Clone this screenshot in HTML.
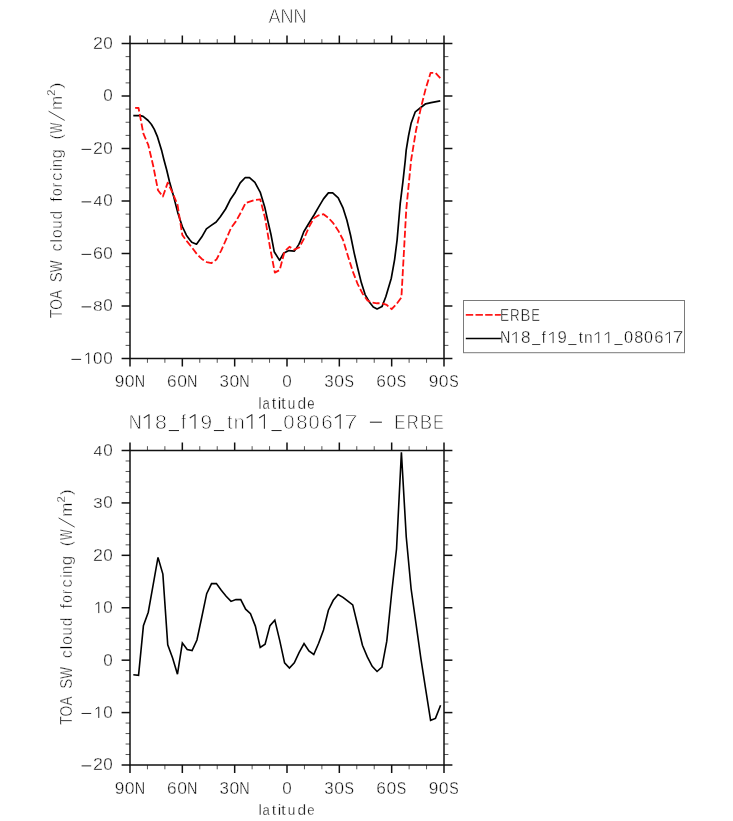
<!DOCTYPE html>
<html><head><meta charset="utf-8"><title>ANN</title>
<style>html,body{margin:0;padding:0;background:#fff;} svg{display:block;will-change:transform;}</style>
</head><body>
<svg width="733" height="821" viewBox="0 0 733 821">
<rect width="733" height="821" fill="#fff"/>
<line x1="130.00" y1="358.50" x2="130.00" y2="366.50" stroke="#111" stroke-width="1.5"/>
<line x1="130.00" y1="43.50" x2="130.00" y2="35.50" stroke="#111" stroke-width="1.5"/>
<line x1="147.44" y1="358.50" x2="147.44" y2="362.80" stroke="#555" stroke-width="1.0"/>
<line x1="147.44" y1="43.50" x2="147.44" y2="39.20" stroke="#555" stroke-width="1.0"/>
<line x1="164.89" y1="358.50" x2="164.89" y2="362.80" stroke="#555" stroke-width="1.0"/>
<line x1="164.89" y1="43.50" x2="164.89" y2="39.20" stroke="#555" stroke-width="1.0"/>
<line x1="182.33" y1="358.50" x2="182.33" y2="366.50" stroke="#111" stroke-width="1.5"/>
<line x1="182.33" y1="43.50" x2="182.33" y2="35.50" stroke="#111" stroke-width="1.5"/>
<line x1="199.78" y1="358.50" x2="199.78" y2="362.80" stroke="#555" stroke-width="1.0"/>
<line x1="199.78" y1="43.50" x2="199.78" y2="39.20" stroke="#555" stroke-width="1.0"/>
<line x1="217.22" y1="358.50" x2="217.22" y2="362.80" stroke="#555" stroke-width="1.0"/>
<line x1="217.22" y1="43.50" x2="217.22" y2="39.20" stroke="#555" stroke-width="1.0"/>
<line x1="234.67" y1="358.50" x2="234.67" y2="366.50" stroke="#111" stroke-width="1.5"/>
<line x1="234.67" y1="43.50" x2="234.67" y2="35.50" stroke="#111" stroke-width="1.5"/>
<line x1="252.11" y1="358.50" x2="252.11" y2="362.80" stroke="#555" stroke-width="1.0"/>
<line x1="252.11" y1="43.50" x2="252.11" y2="39.20" stroke="#555" stroke-width="1.0"/>
<line x1="269.56" y1="358.50" x2="269.56" y2="362.80" stroke="#555" stroke-width="1.0"/>
<line x1="269.56" y1="43.50" x2="269.56" y2="39.20" stroke="#555" stroke-width="1.0"/>
<line x1="287.00" y1="358.50" x2="287.00" y2="366.50" stroke="#111" stroke-width="1.5"/>
<line x1="287.00" y1="43.50" x2="287.00" y2="35.50" stroke="#111" stroke-width="1.5"/>
<line x1="304.44" y1="358.50" x2="304.44" y2="362.80" stroke="#555" stroke-width="1.0"/>
<line x1="304.44" y1="43.50" x2="304.44" y2="39.20" stroke="#555" stroke-width="1.0"/>
<line x1="321.89" y1="358.50" x2="321.89" y2="362.80" stroke="#555" stroke-width="1.0"/>
<line x1="321.89" y1="43.50" x2="321.89" y2="39.20" stroke="#555" stroke-width="1.0"/>
<line x1="339.33" y1="358.50" x2="339.33" y2="366.50" stroke="#111" stroke-width="1.5"/>
<line x1="339.33" y1="43.50" x2="339.33" y2="35.50" stroke="#111" stroke-width="1.5"/>
<line x1="356.78" y1="358.50" x2="356.78" y2="362.80" stroke="#555" stroke-width="1.0"/>
<line x1="356.78" y1="43.50" x2="356.78" y2="39.20" stroke="#555" stroke-width="1.0"/>
<line x1="374.22" y1="358.50" x2="374.22" y2="362.80" stroke="#555" stroke-width="1.0"/>
<line x1="374.22" y1="43.50" x2="374.22" y2="39.20" stroke="#555" stroke-width="1.0"/>
<line x1="391.67" y1="358.50" x2="391.67" y2="366.50" stroke="#111" stroke-width="1.5"/>
<line x1="391.67" y1="43.50" x2="391.67" y2="35.50" stroke="#111" stroke-width="1.5"/>
<line x1="409.11" y1="358.50" x2="409.11" y2="362.80" stroke="#555" stroke-width="1.0"/>
<line x1="409.11" y1="43.50" x2="409.11" y2="39.20" stroke="#555" stroke-width="1.0"/>
<line x1="426.56" y1="358.50" x2="426.56" y2="362.80" stroke="#555" stroke-width="1.0"/>
<line x1="426.56" y1="43.50" x2="426.56" y2="39.20" stroke="#555" stroke-width="1.0"/>
<line x1="444.00" y1="358.50" x2="444.00" y2="366.50" stroke="#111" stroke-width="1.5"/>
<line x1="444.00" y1="43.50" x2="444.00" y2="35.50" stroke="#111" stroke-width="1.5"/>
<line x1="130.00" y1="43.50" x2="121.60" y2="43.50" stroke="#111" stroke-width="1.5"/>
<line x1="444.00" y1="43.50" x2="452.40" y2="43.50" stroke="#111" stroke-width="1.5"/>
<line x1="130.00" y1="56.62" x2="125.60" y2="56.62" stroke="#555" stroke-width="1.0"/>
<line x1="444.00" y1="56.62" x2="448.40" y2="56.62" stroke="#555" stroke-width="1.0"/>
<line x1="130.00" y1="69.75" x2="125.60" y2="69.75" stroke="#555" stroke-width="1.0"/>
<line x1="444.00" y1="69.75" x2="448.40" y2="69.75" stroke="#555" stroke-width="1.0"/>
<line x1="130.00" y1="82.88" x2="125.60" y2="82.88" stroke="#555" stroke-width="1.0"/>
<line x1="444.00" y1="82.88" x2="448.40" y2="82.88" stroke="#555" stroke-width="1.0"/>
<line x1="130.00" y1="96.00" x2="121.60" y2="96.00" stroke="#111" stroke-width="1.5"/>
<line x1="444.00" y1="96.00" x2="452.40" y2="96.00" stroke="#111" stroke-width="1.5"/>
<line x1="130.00" y1="109.12" x2="125.60" y2="109.12" stroke="#555" stroke-width="1.0"/>
<line x1="444.00" y1="109.12" x2="448.40" y2="109.12" stroke="#555" stroke-width="1.0"/>
<line x1="130.00" y1="122.25" x2="125.60" y2="122.25" stroke="#555" stroke-width="1.0"/>
<line x1="444.00" y1="122.25" x2="448.40" y2="122.25" stroke="#555" stroke-width="1.0"/>
<line x1="130.00" y1="135.38" x2="125.60" y2="135.38" stroke="#555" stroke-width="1.0"/>
<line x1="444.00" y1="135.38" x2="448.40" y2="135.38" stroke="#555" stroke-width="1.0"/>
<line x1="130.00" y1="148.50" x2="121.60" y2="148.50" stroke="#111" stroke-width="1.5"/>
<line x1="444.00" y1="148.50" x2="452.40" y2="148.50" stroke="#111" stroke-width="1.5"/>
<line x1="130.00" y1="161.62" x2="125.60" y2="161.62" stroke="#555" stroke-width="1.0"/>
<line x1="444.00" y1="161.62" x2="448.40" y2="161.62" stroke="#555" stroke-width="1.0"/>
<line x1="130.00" y1="174.75" x2="125.60" y2="174.75" stroke="#555" stroke-width="1.0"/>
<line x1="444.00" y1="174.75" x2="448.40" y2="174.75" stroke="#555" stroke-width="1.0"/>
<line x1="130.00" y1="187.88" x2="125.60" y2="187.88" stroke="#555" stroke-width="1.0"/>
<line x1="444.00" y1="187.88" x2="448.40" y2="187.88" stroke="#555" stroke-width="1.0"/>
<line x1="130.00" y1="201.00" x2="121.60" y2="201.00" stroke="#111" stroke-width="1.5"/>
<line x1="444.00" y1="201.00" x2="452.40" y2="201.00" stroke="#111" stroke-width="1.5"/>
<line x1="130.00" y1="214.12" x2="125.60" y2="214.12" stroke="#555" stroke-width="1.0"/>
<line x1="444.00" y1="214.12" x2="448.40" y2="214.12" stroke="#555" stroke-width="1.0"/>
<line x1="130.00" y1="227.25" x2="125.60" y2="227.25" stroke="#555" stroke-width="1.0"/>
<line x1="444.00" y1="227.25" x2="448.40" y2="227.25" stroke="#555" stroke-width="1.0"/>
<line x1="130.00" y1="240.38" x2="125.60" y2="240.38" stroke="#555" stroke-width="1.0"/>
<line x1="444.00" y1="240.38" x2="448.40" y2="240.38" stroke="#555" stroke-width="1.0"/>
<line x1="130.00" y1="253.50" x2="121.60" y2="253.50" stroke="#111" stroke-width="1.5"/>
<line x1="444.00" y1="253.50" x2="452.40" y2="253.50" stroke="#111" stroke-width="1.5"/>
<line x1="130.00" y1="266.62" x2="125.60" y2="266.62" stroke="#555" stroke-width="1.0"/>
<line x1="444.00" y1="266.62" x2="448.40" y2="266.62" stroke="#555" stroke-width="1.0"/>
<line x1="130.00" y1="279.75" x2="125.60" y2="279.75" stroke="#555" stroke-width="1.0"/>
<line x1="444.00" y1="279.75" x2="448.40" y2="279.75" stroke="#555" stroke-width="1.0"/>
<line x1="130.00" y1="292.88" x2="125.60" y2="292.88" stroke="#555" stroke-width="1.0"/>
<line x1="444.00" y1="292.88" x2="448.40" y2="292.88" stroke="#555" stroke-width="1.0"/>
<line x1="130.00" y1="306.00" x2="121.60" y2="306.00" stroke="#111" stroke-width="1.5"/>
<line x1="444.00" y1="306.00" x2="452.40" y2="306.00" stroke="#111" stroke-width="1.5"/>
<line x1="130.00" y1="319.12" x2="125.60" y2="319.12" stroke="#555" stroke-width="1.0"/>
<line x1="444.00" y1="319.12" x2="448.40" y2="319.12" stroke="#555" stroke-width="1.0"/>
<line x1="130.00" y1="332.25" x2="125.60" y2="332.25" stroke="#555" stroke-width="1.0"/>
<line x1="444.00" y1="332.25" x2="448.40" y2="332.25" stroke="#555" stroke-width="1.0"/>
<line x1="130.00" y1="345.38" x2="125.60" y2="345.38" stroke="#555" stroke-width="1.0"/>
<line x1="444.00" y1="345.38" x2="448.40" y2="345.38" stroke="#555" stroke-width="1.0"/>
<line x1="130.00" y1="358.50" x2="121.60" y2="358.50" stroke="#111" stroke-width="1.5"/>
<line x1="444.00" y1="358.50" x2="452.40" y2="358.50" stroke="#111" stroke-width="1.5"/>
<rect x="130.0" y="43.5" width="314.00" height="315.00" stroke="#111" stroke-width="1.5" fill="none"/>
<line x1="130.00" y1="765.00" x2="130.00" y2="773.00" stroke="#111" stroke-width="1.5"/>
<line x1="130.00" y1="450.50" x2="130.00" y2="442.50" stroke="#111" stroke-width="1.5"/>
<line x1="147.44" y1="765.00" x2="147.44" y2="769.30" stroke="#555" stroke-width="1.0"/>
<line x1="147.44" y1="450.50" x2="147.44" y2="446.20" stroke="#555" stroke-width="1.0"/>
<line x1="164.89" y1="765.00" x2="164.89" y2="769.30" stroke="#555" stroke-width="1.0"/>
<line x1="164.89" y1="450.50" x2="164.89" y2="446.20" stroke="#555" stroke-width="1.0"/>
<line x1="182.33" y1="765.00" x2="182.33" y2="773.00" stroke="#111" stroke-width="1.5"/>
<line x1="182.33" y1="450.50" x2="182.33" y2="442.50" stroke="#111" stroke-width="1.5"/>
<line x1="199.78" y1="765.00" x2="199.78" y2="769.30" stroke="#555" stroke-width="1.0"/>
<line x1="199.78" y1="450.50" x2="199.78" y2="446.20" stroke="#555" stroke-width="1.0"/>
<line x1="217.22" y1="765.00" x2="217.22" y2="769.30" stroke="#555" stroke-width="1.0"/>
<line x1="217.22" y1="450.50" x2="217.22" y2="446.20" stroke="#555" stroke-width="1.0"/>
<line x1="234.67" y1="765.00" x2="234.67" y2="773.00" stroke="#111" stroke-width="1.5"/>
<line x1="234.67" y1="450.50" x2="234.67" y2="442.50" stroke="#111" stroke-width="1.5"/>
<line x1="252.11" y1="765.00" x2="252.11" y2="769.30" stroke="#555" stroke-width="1.0"/>
<line x1="252.11" y1="450.50" x2="252.11" y2="446.20" stroke="#555" stroke-width="1.0"/>
<line x1="269.56" y1="765.00" x2="269.56" y2="769.30" stroke="#555" stroke-width="1.0"/>
<line x1="269.56" y1="450.50" x2="269.56" y2="446.20" stroke="#555" stroke-width="1.0"/>
<line x1="287.00" y1="765.00" x2="287.00" y2="773.00" stroke="#111" stroke-width="1.5"/>
<line x1="287.00" y1="450.50" x2="287.00" y2="442.50" stroke="#111" stroke-width="1.5"/>
<line x1="304.44" y1="765.00" x2="304.44" y2="769.30" stroke="#555" stroke-width="1.0"/>
<line x1="304.44" y1="450.50" x2="304.44" y2="446.20" stroke="#555" stroke-width="1.0"/>
<line x1="321.89" y1="765.00" x2="321.89" y2="769.30" stroke="#555" stroke-width="1.0"/>
<line x1="321.89" y1="450.50" x2="321.89" y2="446.20" stroke="#555" stroke-width="1.0"/>
<line x1="339.33" y1="765.00" x2="339.33" y2="773.00" stroke="#111" stroke-width="1.5"/>
<line x1="339.33" y1="450.50" x2="339.33" y2="442.50" stroke="#111" stroke-width="1.5"/>
<line x1="356.78" y1="765.00" x2="356.78" y2="769.30" stroke="#555" stroke-width="1.0"/>
<line x1="356.78" y1="450.50" x2="356.78" y2="446.20" stroke="#555" stroke-width="1.0"/>
<line x1="374.22" y1="765.00" x2="374.22" y2="769.30" stroke="#555" stroke-width="1.0"/>
<line x1="374.22" y1="450.50" x2="374.22" y2="446.20" stroke="#555" stroke-width="1.0"/>
<line x1="391.67" y1="765.00" x2="391.67" y2="773.00" stroke="#111" stroke-width="1.5"/>
<line x1="391.67" y1="450.50" x2="391.67" y2="442.50" stroke="#111" stroke-width="1.5"/>
<line x1="409.11" y1="765.00" x2="409.11" y2="769.30" stroke="#555" stroke-width="1.0"/>
<line x1="409.11" y1="450.50" x2="409.11" y2="446.20" stroke="#555" stroke-width="1.0"/>
<line x1="426.56" y1="765.00" x2="426.56" y2="769.30" stroke="#555" stroke-width="1.0"/>
<line x1="426.56" y1="450.50" x2="426.56" y2="446.20" stroke="#555" stroke-width="1.0"/>
<line x1="444.00" y1="765.00" x2="444.00" y2="773.00" stroke="#111" stroke-width="1.5"/>
<line x1="444.00" y1="450.50" x2="444.00" y2="442.50" stroke="#111" stroke-width="1.5"/>
<line x1="130.00" y1="450.50" x2="121.60" y2="450.50" stroke="#111" stroke-width="1.5"/>
<line x1="444.00" y1="450.50" x2="452.40" y2="450.50" stroke="#111" stroke-width="1.5"/>
<line x1="130.00" y1="460.98" x2="125.60" y2="460.98" stroke="#555" stroke-width="1.0"/>
<line x1="444.00" y1="460.98" x2="448.40" y2="460.98" stroke="#555" stroke-width="1.0"/>
<line x1="130.00" y1="471.47" x2="125.60" y2="471.47" stroke="#555" stroke-width="1.0"/>
<line x1="444.00" y1="471.47" x2="448.40" y2="471.47" stroke="#555" stroke-width="1.0"/>
<line x1="130.00" y1="481.95" x2="125.60" y2="481.95" stroke="#555" stroke-width="1.0"/>
<line x1="444.00" y1="481.95" x2="448.40" y2="481.95" stroke="#555" stroke-width="1.0"/>
<line x1="130.00" y1="492.43" x2="125.60" y2="492.43" stroke="#555" stroke-width="1.0"/>
<line x1="444.00" y1="492.43" x2="448.40" y2="492.43" stroke="#555" stroke-width="1.0"/>
<line x1="130.00" y1="502.92" x2="121.60" y2="502.92" stroke="#111" stroke-width="1.5"/>
<line x1="444.00" y1="502.92" x2="452.40" y2="502.92" stroke="#111" stroke-width="1.5"/>
<line x1="130.00" y1="513.40" x2="125.60" y2="513.40" stroke="#555" stroke-width="1.0"/>
<line x1="444.00" y1="513.40" x2="448.40" y2="513.40" stroke="#555" stroke-width="1.0"/>
<line x1="130.00" y1="523.88" x2="125.60" y2="523.88" stroke="#555" stroke-width="1.0"/>
<line x1="444.00" y1="523.88" x2="448.40" y2="523.88" stroke="#555" stroke-width="1.0"/>
<line x1="130.00" y1="534.37" x2="125.60" y2="534.37" stroke="#555" stroke-width="1.0"/>
<line x1="444.00" y1="534.37" x2="448.40" y2="534.37" stroke="#555" stroke-width="1.0"/>
<line x1="130.00" y1="544.85" x2="125.60" y2="544.85" stroke="#555" stroke-width="1.0"/>
<line x1="444.00" y1="544.85" x2="448.40" y2="544.85" stroke="#555" stroke-width="1.0"/>
<line x1="130.00" y1="555.33" x2="121.60" y2="555.33" stroke="#111" stroke-width="1.5"/>
<line x1="444.00" y1="555.33" x2="452.40" y2="555.33" stroke="#111" stroke-width="1.5"/>
<line x1="130.00" y1="565.82" x2="125.60" y2="565.82" stroke="#555" stroke-width="1.0"/>
<line x1="444.00" y1="565.82" x2="448.40" y2="565.82" stroke="#555" stroke-width="1.0"/>
<line x1="130.00" y1="576.30" x2="125.60" y2="576.30" stroke="#555" stroke-width="1.0"/>
<line x1="444.00" y1="576.30" x2="448.40" y2="576.30" stroke="#555" stroke-width="1.0"/>
<line x1="130.00" y1="586.78" x2="125.60" y2="586.78" stroke="#555" stroke-width="1.0"/>
<line x1="444.00" y1="586.78" x2="448.40" y2="586.78" stroke="#555" stroke-width="1.0"/>
<line x1="130.00" y1="597.27" x2="125.60" y2="597.27" stroke="#555" stroke-width="1.0"/>
<line x1="444.00" y1="597.27" x2="448.40" y2="597.27" stroke="#555" stroke-width="1.0"/>
<line x1="130.00" y1="607.75" x2="121.60" y2="607.75" stroke="#111" stroke-width="1.5"/>
<line x1="444.00" y1="607.75" x2="452.40" y2="607.75" stroke="#111" stroke-width="1.5"/>
<line x1="130.00" y1="618.23" x2="125.60" y2="618.23" stroke="#555" stroke-width="1.0"/>
<line x1="444.00" y1="618.23" x2="448.40" y2="618.23" stroke="#555" stroke-width="1.0"/>
<line x1="130.00" y1="628.72" x2="125.60" y2="628.72" stroke="#555" stroke-width="1.0"/>
<line x1="444.00" y1="628.72" x2="448.40" y2="628.72" stroke="#555" stroke-width="1.0"/>
<line x1="130.00" y1="639.20" x2="125.60" y2="639.20" stroke="#555" stroke-width="1.0"/>
<line x1="444.00" y1="639.20" x2="448.40" y2="639.20" stroke="#555" stroke-width="1.0"/>
<line x1="130.00" y1="649.68" x2="125.60" y2="649.68" stroke="#555" stroke-width="1.0"/>
<line x1="444.00" y1="649.68" x2="448.40" y2="649.68" stroke="#555" stroke-width="1.0"/>
<line x1="130.00" y1="660.17" x2="121.60" y2="660.17" stroke="#111" stroke-width="1.5"/>
<line x1="444.00" y1="660.17" x2="452.40" y2="660.17" stroke="#111" stroke-width="1.5"/>
<line x1="130.00" y1="670.65" x2="125.60" y2="670.65" stroke="#555" stroke-width="1.0"/>
<line x1="444.00" y1="670.65" x2="448.40" y2="670.65" stroke="#555" stroke-width="1.0"/>
<line x1="130.00" y1="681.13" x2="125.60" y2="681.13" stroke="#555" stroke-width="1.0"/>
<line x1="444.00" y1="681.13" x2="448.40" y2="681.13" stroke="#555" stroke-width="1.0"/>
<line x1="130.00" y1="691.62" x2="125.60" y2="691.62" stroke="#555" stroke-width="1.0"/>
<line x1="444.00" y1="691.62" x2="448.40" y2="691.62" stroke="#555" stroke-width="1.0"/>
<line x1="130.00" y1="702.10" x2="125.60" y2="702.10" stroke="#555" stroke-width="1.0"/>
<line x1="444.00" y1="702.10" x2="448.40" y2="702.10" stroke="#555" stroke-width="1.0"/>
<line x1="130.00" y1="712.58" x2="121.60" y2="712.58" stroke="#111" stroke-width="1.5"/>
<line x1="444.00" y1="712.58" x2="452.40" y2="712.58" stroke="#111" stroke-width="1.5"/>
<line x1="130.00" y1="723.07" x2="125.60" y2="723.07" stroke="#555" stroke-width="1.0"/>
<line x1="444.00" y1="723.07" x2="448.40" y2="723.07" stroke="#555" stroke-width="1.0"/>
<line x1="130.00" y1="733.55" x2="125.60" y2="733.55" stroke="#555" stroke-width="1.0"/>
<line x1="444.00" y1="733.55" x2="448.40" y2="733.55" stroke="#555" stroke-width="1.0"/>
<line x1="130.00" y1="744.03" x2="125.60" y2="744.03" stroke="#555" stroke-width="1.0"/>
<line x1="444.00" y1="744.03" x2="448.40" y2="744.03" stroke="#555" stroke-width="1.0"/>
<line x1="130.00" y1="754.52" x2="125.60" y2="754.52" stroke="#555" stroke-width="1.0"/>
<line x1="444.00" y1="754.52" x2="448.40" y2="754.52" stroke="#555" stroke-width="1.0"/>
<line x1="130.00" y1="765.00" x2="121.60" y2="765.00" stroke="#111" stroke-width="1.5"/>
<line x1="444.00" y1="765.00" x2="452.40" y2="765.00" stroke="#111" stroke-width="1.5"/>
<rect x="130.0" y="450.5" width="314.00" height="314.50" stroke="#111" stroke-width="1.5" fill="none"/>
<text font-family="Liberation Sans, sans-serif" font-size="16.143" transform="translate(114.69,387.30) scale(1.0706,1)" fill="#000" stroke="#fff" stroke-width="0.42" >9</text>
<text font-family="Liberation Sans, sans-serif" font-size="16.143" transform="translate(124.80,387.30) scale(1.0905,1)" fill="#000" stroke="#fff" stroke-width="0.42" >0</text>
<text font-family="Liberation Sans, sans-serif" font-size="16.143" transform="translate(134.70,387.30) scale(0.8905,1)" fill="#000" stroke="#fff" stroke-width="0.42" >N</text>
<text font-family="Liberation Sans, sans-serif" font-size="16.143" transform="translate(167.02,387.30) scale(1.0706,1)" fill="#000" stroke="#fff" stroke-width="0.42" >6</text>
<text font-family="Liberation Sans, sans-serif" font-size="16.143" transform="translate(177.13,387.30) scale(1.0905,1)" fill="#000" stroke="#fff" stroke-width="0.42" >0</text>
<text font-family="Liberation Sans, sans-serif" font-size="16.143" transform="translate(187.03,387.30) scale(0.8905,1)" fill="#000" stroke="#fff" stroke-width="0.42" >N</text>
<text font-family="Liberation Sans, sans-serif" font-size="16.143" transform="translate(219.54,387.30) scale(1.0478,1)" fill="#000" stroke="#fff" stroke-width="0.42" >3</text>
<text font-family="Liberation Sans, sans-serif" font-size="16.143" transform="translate(229.46,387.30) scale(1.0905,1)" fill="#000" stroke="#fff" stroke-width="0.42" >0</text>
<text font-family="Liberation Sans, sans-serif" font-size="16.143" transform="translate(239.37,387.30) scale(0.8905,1)" fill="#000" stroke="#fff" stroke-width="0.42" >N</text>
<text font-family="Liberation Sans, sans-serif" font-size="16.143" transform="translate(282.32,387.30) scale(1.0583,1)" fill="#000" stroke="#fff" stroke-width="0.42" >0</text>
<text font-family="Liberation Sans, sans-serif" font-size="16.143" transform="translate(324.21,387.30) scale(1.0478,1)" fill="#000" stroke="#fff" stroke-width="0.42" >3</text>
<text font-family="Liberation Sans, sans-serif" font-size="16.143" transform="translate(334.13,387.30) scale(1.0905,1)" fill="#000" stroke="#fff" stroke-width="0.42" >0</text>
<text font-family="Liberation Sans, sans-serif" font-size="16.143" transform="translate(344.48,387.30) scale(0.8749,1)" fill="#000" stroke="#fff" stroke-width="0.42" >S</text>
<text font-family="Liberation Sans, sans-serif" font-size="16.143" transform="translate(376.35,387.30) scale(1.0706,1)" fill="#000" stroke="#fff" stroke-width="0.42" >6</text>
<text font-family="Liberation Sans, sans-serif" font-size="16.143" transform="translate(386.46,387.30) scale(1.0905,1)" fill="#000" stroke="#fff" stroke-width="0.42" >0</text>
<text font-family="Liberation Sans, sans-serif" font-size="16.143" transform="translate(396.81,387.30) scale(0.8749,1)" fill="#000" stroke="#fff" stroke-width="0.42" >S</text>
<text font-family="Liberation Sans, sans-serif" font-size="16.143" transform="translate(428.69,387.30) scale(1.0706,1)" fill="#000" stroke="#fff" stroke-width="0.42" >9</text>
<text font-family="Liberation Sans, sans-serif" font-size="16.143" transform="translate(438.80,387.30) scale(1.0905,1)" fill="#000" stroke="#fff" stroke-width="0.42" >0</text>
<text font-family="Liberation Sans, sans-serif" font-size="16.143" transform="translate(449.14,387.30) scale(0.8749,1)" fill="#000" stroke="#fff" stroke-width="0.42" >S</text>
<text font-family="Liberation Sans, sans-serif" font-size="15.857" transform="translate(114.69,794.10) scale(1.0899,1)" fill="#000" stroke="#fff" stroke-width="0.40" >9</text>
<text font-family="Liberation Sans, sans-serif" font-size="15.857" transform="translate(124.80,794.10) scale(1.1102,1)" fill="#000" stroke="#fff" stroke-width="0.40" >0</text>
<text font-family="Liberation Sans, sans-serif" font-size="15.857" transform="translate(134.70,794.10) scale(0.9065,1)" fill="#000" stroke="#fff" stroke-width="0.40" >N</text>
<text font-family="Liberation Sans, sans-serif" font-size="15.857" transform="translate(167.02,794.10) scale(1.0899,1)" fill="#000" stroke="#fff" stroke-width="0.40" >6</text>
<text font-family="Liberation Sans, sans-serif" font-size="15.857" transform="translate(177.13,794.10) scale(1.1102,1)" fill="#000" stroke="#fff" stroke-width="0.40" >0</text>
<text font-family="Liberation Sans, sans-serif" font-size="15.857" transform="translate(187.03,794.10) scale(0.9065,1)" fill="#000" stroke="#fff" stroke-width="0.40" >N</text>
<text font-family="Liberation Sans, sans-serif" font-size="15.857" transform="translate(219.54,794.10) scale(1.0667,1)" fill="#000" stroke="#fff" stroke-width="0.40" >3</text>
<text font-family="Liberation Sans, sans-serif" font-size="15.857" transform="translate(229.46,794.10) scale(1.1102,1)" fill="#000" stroke="#fff" stroke-width="0.40" >0</text>
<text font-family="Liberation Sans, sans-serif" font-size="15.857" transform="translate(239.37,794.10) scale(0.9065,1)" fill="#000" stroke="#fff" stroke-width="0.40" >N</text>
<text font-family="Liberation Sans, sans-serif" font-size="15.857" transform="translate(282.32,794.10) scale(1.0773,1)" fill="#000" stroke="#fff" stroke-width="0.40" >0</text>
<text font-family="Liberation Sans, sans-serif" font-size="15.857" transform="translate(324.21,794.10) scale(1.0667,1)" fill="#000" stroke="#fff" stroke-width="0.40" >3</text>
<text font-family="Liberation Sans, sans-serif" font-size="15.857" transform="translate(334.13,794.10) scale(1.1102,1)" fill="#000" stroke="#fff" stroke-width="0.40" >0</text>
<text font-family="Liberation Sans, sans-serif" font-size="15.857" transform="translate(344.48,794.10) scale(0.8906,1)" fill="#000" stroke="#fff" stroke-width="0.40" >S</text>
<text font-family="Liberation Sans, sans-serif" font-size="15.857" transform="translate(376.35,794.10) scale(1.0899,1)" fill="#000" stroke="#fff" stroke-width="0.40" >6</text>
<text font-family="Liberation Sans, sans-serif" font-size="15.857" transform="translate(386.46,794.10) scale(1.1102,1)" fill="#000" stroke="#fff" stroke-width="0.40" >0</text>
<text font-family="Liberation Sans, sans-serif" font-size="15.857" transform="translate(396.81,794.10) scale(0.8906,1)" fill="#000" stroke="#fff" stroke-width="0.40" >S</text>
<text font-family="Liberation Sans, sans-serif" font-size="15.857" transform="translate(428.69,794.10) scale(1.0899,1)" fill="#000" stroke="#fff" stroke-width="0.40" >9</text>
<text font-family="Liberation Sans, sans-serif" font-size="15.857" transform="translate(438.80,794.10) scale(1.1102,1)" fill="#000" stroke="#fff" stroke-width="0.40" >0</text>
<text font-family="Liberation Sans, sans-serif" font-size="15.857" transform="translate(449.14,794.10) scale(0.8906,1)" fill="#000" stroke="#fff" stroke-width="0.40" >S</text>
<text font-family="Liberation Sans, sans-serif" font-size="15.571" transform="translate(92.91,48.85) scale(1.1448,1)" fill="#000" stroke="#fff" stroke-width="0.37" >2</text>
<text font-family="Liberation Sans, sans-serif" font-size="15.571" transform="translate(103.22,48.85) scale(1.0971,1)" fill="#000" stroke="#fff" stroke-width="0.37" >0</text>
<text font-family="Liberation Sans, sans-serif" font-size="15.571" transform="translate(103.22,101.35) scale(1.0971,1)" fill="#000" stroke="#fff" stroke-width="0.37" >0</text>
<line x1="81.60" y1="149.38" x2="91.20" y2="149.38" stroke="#262626" stroke-width="1.0"/>
<text font-family="Liberation Sans, sans-serif" font-size="15.571" transform="translate(92.91,153.85) scale(1.1448,1)" fill="#000" stroke="#fff" stroke-width="0.37" >2</text>
<text font-family="Liberation Sans, sans-serif" font-size="15.571" transform="translate(103.22,153.85) scale(1.0971,1)" fill="#000" stroke="#fff" stroke-width="0.37" >0</text>
<line x1="81.60" y1="201.88" x2="91.20" y2="201.88" stroke="#262626" stroke-width="1.0"/>
<text font-family="Liberation Sans, sans-serif" font-size="15.571" transform="translate(93.48,206.35) scale(1.0326,1)" fill="#000" stroke="#fff" stroke-width="0.37" >4</text>
<text font-family="Liberation Sans, sans-serif" font-size="15.571" transform="translate(103.22,206.35) scale(1.0971,1)" fill="#000" stroke="#fff" stroke-width="0.37" >0</text>
<line x1="81.60" y1="254.38" x2="91.20" y2="254.38" stroke="#262626" stroke-width="1.0"/>
<text font-family="Liberation Sans, sans-serif" font-size="15.571" transform="translate(92.91,258.85) scale(1.1448,1)" fill="#000" stroke="#fff" stroke-width="0.37" >6</text>
<text font-family="Liberation Sans, sans-serif" font-size="15.571" transform="translate(103.22,258.85) scale(1.0971,1)" fill="#000" stroke="#fff" stroke-width="0.37" >0</text>
<line x1="81.60" y1="306.88" x2="91.20" y2="306.88" stroke="#262626" stroke-width="1.0"/>
<text font-family="Liberation Sans, sans-serif" font-size="15.571" transform="translate(93.10,311.35) scale(1.1204,1)" fill="#000" stroke="#fff" stroke-width="0.37" >8</text>
<text font-family="Liberation Sans, sans-serif" font-size="15.571" transform="translate(103.22,311.35) scale(1.0971,1)" fill="#000" stroke="#fff" stroke-width="0.37" >0</text>
<line x1="71.50" y1="359.38" x2="81.10" y2="359.38" stroke="#262626" stroke-width="1.0"/>
<path d="M85.52,355.13 L88.68,352.95 L88.68,363.85" fill="none" stroke="#262626" stroke-width="1.0" stroke-linejoin="round"/>
<text font-family="Liberation Sans, sans-serif" font-size="15.571" transform="translate(93.12,363.85) scale(1.0971,1)" fill="#000" stroke="#fff" stroke-width="0.37" >0</text>
<text font-family="Liberation Sans, sans-serif" font-size="15.571" transform="translate(103.22,363.85) scale(1.0971,1)" fill="#000" stroke="#fff" stroke-width="0.37" >0</text>
<text font-family="Liberation Sans, sans-serif" font-size="15.571" transform="translate(93.48,455.85) scale(1.0326,1)" fill="#000" stroke="#fff" stroke-width="0.37" >4</text>
<text font-family="Liberation Sans, sans-serif" font-size="15.571" transform="translate(103.22,455.85) scale(1.0971,1)" fill="#000" stroke="#fff" stroke-width="0.37" >0</text>
<text font-family="Liberation Sans, sans-serif" font-size="15.571" transform="translate(93.10,508.27) scale(1.1204,1)" fill="#000" stroke="#fff" stroke-width="0.37" >3</text>
<text font-family="Liberation Sans, sans-serif" font-size="15.571" transform="translate(103.22,508.27) scale(1.0971,1)" fill="#000" stroke="#fff" stroke-width="0.37" >0</text>
<text font-family="Liberation Sans, sans-serif" font-size="15.571" transform="translate(92.91,560.68) scale(1.1448,1)" fill="#000" stroke="#fff" stroke-width="0.37" >2</text>
<text font-family="Liberation Sans, sans-serif" font-size="15.571" transform="translate(103.22,560.68) scale(1.0971,1)" fill="#000" stroke="#fff" stroke-width="0.37" >0</text>
<path d="M95.62,604.38 L98.78,602.20 L98.78,613.10" fill="none" stroke="#262626" stroke-width="1.0" stroke-linejoin="round"/>
<text font-family="Liberation Sans, sans-serif" font-size="15.571" transform="translate(103.22,613.10) scale(1.0971,1)" fill="#000" stroke="#fff" stroke-width="0.37" >0</text>
<text font-family="Liberation Sans, sans-serif" font-size="15.571" transform="translate(103.22,665.52) scale(1.0971,1)" fill="#000" stroke="#fff" stroke-width="0.37" >0</text>
<line x1="81.60" y1="713.46" x2="91.20" y2="713.46" stroke="#262626" stroke-width="1.0"/>
<path d="M95.62,709.21 L98.78,707.03 L98.78,717.93" fill="none" stroke="#262626" stroke-width="1.0" stroke-linejoin="round"/>
<text font-family="Liberation Sans, sans-serif" font-size="15.571" transform="translate(103.22,717.93) scale(1.0971,1)" fill="#000" stroke="#fff" stroke-width="0.37" >0</text>
<line x1="81.60" y1="765.88" x2="91.20" y2="765.88" stroke="#262626" stroke-width="1.0"/>
<text font-family="Liberation Sans, sans-serif" font-size="15.571" transform="translate(92.91,770.35) scale(1.1448,1)" fill="#000" stroke="#fff" stroke-width="0.37" >2</text>
<text font-family="Liberation Sans, sans-serif" font-size="15.571" transform="translate(103.22,770.35) scale(1.0971,1)" fill="#000" stroke="#fff" stroke-width="0.37" >0</text>
<text font-family="Liberation Sans, sans-serif" font-size="20.290" transform="translate(268.50,22.80) scale(0.8886,1)" fill="#000" stroke="#fff" stroke-width="0.77" >ANN</text>
<text font-family="Liberation Sans, sans-serif" font-size="20.435" transform="translate(128.67,428.70) scale(0.8739,1)" fill="#000" stroke="#fff" stroke-width="0.79" >N</text>
<path d="M143.78,417.98 L149.00,414.60 L149.00,428.70" fill="none" stroke="#2a2a2a" stroke-width="1.06" stroke-linejoin="round"/>
<text font-family="Liberation Sans, sans-serif" font-size="20.435" transform="translate(155.05,428.70) scale(1.0412,1)" fill="#000" stroke="#fff" stroke-width="0.79" >8</text>
<line x1="168.80" y1="430.53" x2="179.00" y2="430.53" stroke="#2a2a2a" stroke-width="1.06"/>
<text font-family="Liberation Sans, sans-serif" font-size="20.435" transform="translate(180.92,428.70) scale(0.8700,1)" fill="#000" stroke="#fff" stroke-width="0.79" >f</text>
<path d="M189.78,417.98 L195.00,414.60 L195.00,428.70" fill="none" stroke="#2a2a2a" stroke-width="1.06" stroke-linejoin="round"/>
<text font-family="Liberation Sans, sans-serif" font-size="20.435" transform="translate(200.56,428.70) scale(1.0213,1)" fill="#000" stroke="#fff" stroke-width="0.79" >9</text>
<line x1="213.90" y1="430.53" x2="224.10" y2="430.53" stroke="#2a2a2a" stroke-width="1.06"/>
<text font-family="Liberation Sans, sans-serif" font-size="20.435" transform="translate(227.12,428.70) scale(0.9396,1)" fill="#000" stroke="#fff" stroke-width="0.79" >t</text>
<text font-family="Liberation Sans, sans-serif" font-size="20.435" transform="translate(233.63,428.70) scale(0.9554,1)" fill="#000" stroke="#fff" stroke-width="0.79" >n</text>
<path d="M246.68,417.98 L251.90,414.60 L251.90,428.70" fill="none" stroke="#2a2a2a" stroke-width="1.06" stroke-linejoin="round"/>
<path d="M259.18,417.98 L264.40,414.60 L264.40,428.70" fill="none" stroke="#2a2a2a" stroke-width="1.06" stroke-linejoin="round"/>
<line x1="271.50" y1="430.53" x2="281.60" y2="430.53" stroke="#2a2a2a" stroke-width="1.06"/>
<text font-family="Liberation Sans, sans-serif" font-size="20.435" transform="translate(283.28,428.70) scale(0.9991,1)" fill="#000" stroke="#fff" stroke-width="0.79" >0</text>
<text font-family="Liberation Sans, sans-serif" font-size="20.435" transform="translate(296.29,428.70) scale(0.9891,1)" fill="#000" stroke="#fff" stroke-width="0.79" >8</text>
<text font-family="Liberation Sans, sans-serif" font-size="20.435" transform="translate(308.50,428.70) scale(0.9787,1)" fill="#000" stroke="#fff" stroke-width="0.79" >0</text>
<text font-family="Liberation Sans, sans-serif" font-size="20.435" transform="translate(321.27,428.70) scale(1.0106,1)" fill="#000" stroke="#fff" stroke-width="0.79" >6</text>
<path d="M334.98,417.98 L340.20,414.60 L340.20,428.70" fill="none" stroke="#2a2a2a" stroke-width="1.06" stroke-linejoin="round"/>
<text font-family="Liberation Sans, sans-serif" font-size="20.435" transform="translate(344.32,428.70) scale(1.1596,1)" fill="#000" stroke="#fff" stroke-width="0.79" >7</text>
<text font-family="Liberation Sans, sans-serif" font-size="20.435" transform="translate(394.24,428.70) scale(0.8337,1)" fill="#000" stroke="#fff" stroke-width="0.79" >E</text>
<text font-family="Liberation Sans, sans-serif" font-size="20.435" transform="translate(406.77,428.70) scale(0.8128,1)" fill="#000" stroke="#fff" stroke-width="0.79" >R</text>
<text font-family="Liberation Sans, sans-serif" font-size="20.435" transform="translate(419.72,428.70) scale(0.9049,1)" fill="#000" stroke="#fff" stroke-width="0.79" >B</text>
<text font-family="Liberation Sans, sans-serif" font-size="20.435" transform="translate(433.01,428.70) scale(0.7884,1)" fill="#000" stroke="#fff" stroke-width="0.79" >E</text>
<line x1="369.9" y1="422.2" x2="381.9" y2="422.2" stroke="#2a2a2a" stroke-width="1.05"/>
<text font-family="Liberation Sans, sans-serif" font-size="15.616" transform="translate(258.35,408.60) scale(1.0000,1)" fill="#000" stroke="#fff" stroke-width="0.38" >l</text>
<text font-family="Liberation Sans, sans-serif" font-size="15.616" transform="translate(262.48,408.60) scale(0.8374,1)" fill="#000" stroke="#fff" stroke-width="0.38" >a</text>
<text font-family="Liberation Sans, sans-serif" font-size="15.616" transform="translate(271.68,408.60) scale(1.0246,1)" fill="#000" stroke="#fff" stroke-width="0.38" >t</text>
<text font-family="Liberation Sans, sans-serif" font-size="15.616" transform="translate(277.73,408.60) scale(1.0000,1)" fill="#000" stroke="#fff" stroke-width="0.38" >i</text>
<text font-family="Liberation Sans, sans-serif" font-size="15.616" transform="translate(280.82,408.60) scale(1.2295,1)" fill="#000" stroke="#fff" stroke-width="0.38" >t</text>
<text font-family="Liberation Sans, sans-serif" font-size="15.616" transform="translate(287.65,408.60) scale(0.8690,1)" fill="#000" stroke="#fff" stroke-width="0.38" >u</text>
<text font-family="Liberation Sans, sans-serif" font-size="15.616" transform="translate(297.58,408.60) scale(0.9961,1)" fill="#000" stroke="#fff" stroke-width="0.38" >d</text>
<text font-family="Liberation Sans, sans-serif" font-size="15.616" transform="translate(307.27,408.60) scale(0.8447,1)" fill="#000" stroke="#fff" stroke-width="0.38" >e</text>
<text font-family="Liberation Sans, sans-serif" font-size="15.342" transform="translate(258.39,815.40) scale(1.0000,1)" fill="#000" stroke="#fff" stroke-width="0.35" >l</text>
<text font-family="Liberation Sans, sans-serif" font-size="15.342" transform="translate(262.48,815.40) scale(0.8523,1)" fill="#000" stroke="#fff" stroke-width="0.35" >a</text>
<text font-family="Liberation Sans, sans-serif" font-size="15.342" transform="translate(271.68,815.40) scale(1.0429,1)" fill="#000" stroke="#fff" stroke-width="0.35" >t</text>
<text font-family="Liberation Sans, sans-serif" font-size="15.342" transform="translate(277.76,815.40) scale(1.0000,1)" fill="#000" stroke="#fff" stroke-width="0.35" >i</text>
<text font-family="Liberation Sans, sans-serif" font-size="15.342" transform="translate(280.82,815.40) scale(1.2514,1)" fill="#000" stroke="#fff" stroke-width="0.35" >t</text>
<text font-family="Liberation Sans, sans-serif" font-size="15.342" transform="translate(287.65,815.40) scale(0.8846,1)" fill="#000" stroke="#fff" stroke-width="0.35" >u</text>
<text font-family="Liberation Sans, sans-serif" font-size="15.342" transform="translate(297.58,815.40) scale(1.0139,1)" fill="#000" stroke="#fff" stroke-width="0.35" >d</text>
<text font-family="Liberation Sans, sans-serif" font-size="15.342" transform="translate(307.27,815.40) scale(0.8598,1)" fill="#000" stroke="#fff" stroke-width="0.35" >e</text>
<rect x="463.5" y="300.5" width="221" height="52.2" fill="none" stroke="#7a7a7a" stroke-width="1"/>
<line x1="465.8" y1="314.9" x2="501.3" y2="314.9" stroke="#ff1a1a" stroke-width="1.6" stroke-dasharray="7.4 2.3"/>
<line x1="465.8" y1="338.5" x2="501.3" y2="338.5" stroke="#000" stroke-width="1.5"/>
<text font-family="Liberation Sans, sans-serif" font-size="16.812" transform="translate(500.00,320.80) scale(0.8146,1)" fill="#000" stroke="#fff" stroke-width="0.48" >E</text>
<text font-family="Liberation Sans, sans-serif" font-size="16.812" transform="translate(510.08,320.80) scale(0.7942,1)" fill="#000" stroke="#fff" stroke-width="0.48" >R</text>
<text font-family="Liberation Sans, sans-serif" font-size="16.812" transform="translate(520.49,320.80) scale(0.8841,1)" fill="#000" stroke="#fff" stroke-width="0.48" >B</text>
<text font-family="Liberation Sans, sans-serif" font-size="16.812" transform="translate(531.17,320.80) scale(0.7703,1)" fill="#000" stroke="#fff" stroke-width="0.48" >E</text>
<text font-family="Liberation Sans, sans-serif" font-size="15.797" transform="translate(499.95,343.10) scale(0.9061,1)" fill="#000" stroke="#fff" stroke-width="0.39" >N</text>
<path d="M512.22,334.82 L516.25,332.20 L516.25,343.10" fill="none" stroke="#2a2a2a" stroke-width="0.90" stroke-linejoin="round"/>
<text font-family="Liberation Sans, sans-serif" font-size="15.797" transform="translate(521.10,343.10) scale(1.0796,1)" fill="#000" stroke="#fff" stroke-width="0.39" >8</text>
<line x1="532.12" y1="344.52" x2="540.30" y2="344.52" stroke="#2a2a2a" stroke-width="0.90"/>
<text font-family="Liberation Sans, sans-serif" font-size="15.797" transform="translate(541.84,343.10) scale(0.9021,1)" fill="#000" stroke="#fff" stroke-width="0.39" >f</text>
<path d="M549.09,334.82 L553.12,332.20 L553.12,343.10" fill="none" stroke="#2a2a2a" stroke-width="0.90" stroke-linejoin="round"/>
<text font-family="Liberation Sans, sans-serif" font-size="15.797" transform="translate(557.58,343.10) scale(1.0590,1)" fill="#000" stroke="#fff" stroke-width="0.39" >9</text>
<line x1="568.27" y1="344.52" x2="576.45" y2="344.52" stroke="#2a2a2a" stroke-width="0.90"/>
<text font-family="Liberation Sans, sans-serif" font-size="15.797" transform="translate(578.87,343.10) scale(0.9743,1)" fill="#000" stroke="#fff" stroke-width="0.39" >t</text>
<text font-family="Liberation Sans, sans-serif" font-size="15.797" transform="translate(584.09,343.10) scale(0.9907,1)" fill="#000" stroke="#fff" stroke-width="0.39" >n</text>
<path d="M594.70,334.82 L598.73,332.20 L598.73,343.10" fill="none" stroke="#2a2a2a" stroke-width="0.90" stroke-linejoin="round"/>
<path d="M604.72,334.82 L608.75,332.20 L608.75,343.10" fill="none" stroke="#2a2a2a" stroke-width="0.90" stroke-linejoin="round"/>
<line x1="614.44" y1="344.52" x2="622.54" y2="344.52" stroke="#2a2a2a" stroke-width="0.90"/>
<text font-family="Liberation Sans, sans-serif" font-size="15.797" transform="translate(623.89,343.10) scale(1.0360,1)" fill="#000" stroke="#fff" stroke-width="0.39" >0</text>
<text font-family="Liberation Sans, sans-serif" font-size="15.797" transform="translate(634.32,343.10) scale(1.0257,1)" fill="#000" stroke="#fff" stroke-width="0.39" >8</text>
<text font-family="Liberation Sans, sans-serif" font-size="15.797" transform="translate(644.10,343.10) scale(1.0149,1)" fill="#000" stroke="#fff" stroke-width="0.39" >0</text>
<text font-family="Liberation Sans, sans-serif" font-size="15.797" transform="translate(654.34,343.10) scale(1.0480,1)" fill="#000" stroke="#fff" stroke-width="0.39" >6</text>
<path d="M665.48,334.82 L669.51,332.20 L669.51,343.10" fill="none" stroke="#2a2a2a" stroke-width="0.90" stroke-linejoin="round"/>
<text font-family="Liberation Sans, sans-serif" font-size="15.797" transform="translate(672.81,343.10) scale(1.2024,1)" fill="#000" stroke="#fff" stroke-width="0.39" >7</text>
<text font-family="Liberation Sans, sans-serif" font-size="16.957" fill="#000" stroke="#fff" stroke-width="0.49" transform="translate(61.90,318.29) rotate(-90) scale(0.8484,1)">T</text>
<text font-family="Liberation Sans, sans-serif" font-size="16.957" fill="#000" stroke="#fff" stroke-width="0.49" transform="translate(61.90,309.79) rotate(-90) scale(0.8152,1)">O</text>
<text font-family="Liberation Sans, sans-serif" font-size="16.957" fill="#000" stroke="#fff" stroke-width="0.49" transform="translate(61.90,298.90) rotate(-90) scale(0.7953,1)">A</text>
<text font-family="Liberation Sans, sans-serif" font-size="16.957" fill="#000" stroke="#fff" stroke-width="0.49" transform="translate(61.90,282.15) rotate(-90) scale(0.8898,1)">S</text>
<text font-family="Liberation Sans, sans-serif" font-size="16.957" fill="#000" stroke="#fff" stroke-width="0.49" transform="translate(61.90,272.13) rotate(-90) scale(0.7419,1)">W</text>
<text font-family="Liberation Sans, sans-serif" font-size="16.957" fill="#000" stroke="#fff" stroke-width="0.49" transform="translate(61.90,251.31) rotate(-90) scale(0.9052,1)">c</text>
<text font-family="Liberation Sans, sans-serif" font-size="16.957" fill="#000" stroke="#fff" stroke-width="0.49" transform="translate(61.90,242.75) rotate(-90) scale(1.0000,1)">l</text>
<text font-family="Liberation Sans, sans-serif" font-size="16.957" fill="#000" stroke="#fff" stroke-width="0.49" transform="translate(61.90,238.12) rotate(-90) scale(0.9160,1)">o</text>
<text font-family="Liberation Sans, sans-serif" font-size="16.957" fill="#000" stroke="#fff" stroke-width="0.49" transform="translate(61.90,228.75) rotate(-90) scale(0.8846,1)">u</text>
<text font-family="Liberation Sans, sans-serif" font-size="16.957" fill="#000" stroke="#fff" stroke-width="0.49" transform="translate(61.90,219.52) rotate(-90) scale(0.9174,1)">d</text>
<text font-family="Liberation Sans, sans-serif" font-size="16.957" fill="#000" stroke="#fff" stroke-width="0.49" transform="translate(61.90,201.86) rotate(-90) scale(0.9611,1)">f</text>
<text font-family="Liberation Sans, sans-serif" font-size="16.957" fill="#000" stroke="#fff" stroke-width="0.49" transform="translate(61.90,195.95) rotate(-90) scale(0.8156,1)">o</text>
<text font-family="Liberation Sans, sans-serif" font-size="16.957" fill="#000" stroke="#fff" stroke-width="0.49" transform="translate(61.90,187.11) rotate(-90) scale(0.6841,1)">r</text>
<text font-family="Liberation Sans, sans-serif" font-size="16.957" fill="#000" stroke="#fff" stroke-width="0.49" transform="translate(61.90,180.75) rotate(-90) scale(0.9600,1)">c</text>
<text font-family="Liberation Sans, sans-serif" font-size="16.957" fill="#000" stroke="#fff" stroke-width="0.49" transform="translate(61.90,171.37) rotate(-90) scale(1.0000,1)">i</text>
<text font-family="Liberation Sans, sans-serif" font-size="16.957" fill="#000" stroke="#fff" stroke-width="0.49" transform="translate(61.90,167.23) rotate(-90) scale(0.8706,1)">n</text>
<text font-family="Liberation Sans, sans-serif" font-size="16.957" fill="#000" stroke="#fff" stroke-width="0.49" transform="translate(61.90,158.48) rotate(-90) scale(1.0091,1)">g</text>
<text font-family="Liberation Sans, sans-serif" font-size="16.957" fill="#000" stroke="#fff" stroke-width="0.49" transform="translate(61.90,139.57) rotate(-90) scale(0.9527,1)">(</text>
<text font-family="Liberation Sans, sans-serif" font-size="16.957" fill="#000" stroke="#fff" stroke-width="0.49" transform="translate(61.90,133.31) rotate(-90) scale(0.6595,1)">W</text>
<text font-family="Liberation Sans, sans-serif" font-size="16.957" fill="#000" stroke="#fff" stroke-width="0.49" transform="translate(61.90,109.99) rotate(-90) scale(1.0026,1)">m</text>
<text font-family="Liberation Sans, sans-serif" font-size="16.957" fill="#000" stroke="#fff" stroke-width="0.49" transform="translate(61.90,88.48) rotate(-90) scale(1.0661,1)">)</text>
<line x1="48.60" y1="111.20" x2="64.70" y2="120.40" stroke="#333" stroke-width="0.9"/>
<text font-family="Liberation Sans, sans-serif" font-size="11.714" fill="#000" stroke="#fff" stroke-width="0.30" transform="translate(55.40,95.77) rotate(-90) scale(0.9650,1)">2</text>
<text font-family="Liberation Sans, sans-serif" font-size="16.957" fill="#000" stroke="#fff" stroke-width="0.49" transform="translate(71.90,724.99) rotate(-90) scale(0.8484,1)">T</text>
<text font-family="Liberation Sans, sans-serif" font-size="16.957" fill="#000" stroke="#fff" stroke-width="0.49" transform="translate(71.90,716.49) rotate(-90) scale(0.8152,1)">O</text>
<text font-family="Liberation Sans, sans-serif" font-size="16.957" fill="#000" stroke="#fff" stroke-width="0.49" transform="translate(71.90,705.60) rotate(-90) scale(0.7953,1)">A</text>
<text font-family="Liberation Sans, sans-serif" font-size="16.957" fill="#000" stroke="#fff" stroke-width="0.49" transform="translate(71.90,688.85) rotate(-90) scale(0.8898,1)">S</text>
<text font-family="Liberation Sans, sans-serif" font-size="16.957" fill="#000" stroke="#fff" stroke-width="0.49" transform="translate(71.90,678.83) rotate(-90) scale(0.7419,1)">W</text>
<text font-family="Liberation Sans, sans-serif" font-size="16.957" fill="#000" stroke="#fff" stroke-width="0.49" transform="translate(71.90,658.01) rotate(-90) scale(0.9052,1)">c</text>
<text font-family="Liberation Sans, sans-serif" font-size="16.957" fill="#000" stroke="#fff" stroke-width="0.49" transform="translate(71.90,649.45) rotate(-90) scale(1.0000,1)">l</text>
<text font-family="Liberation Sans, sans-serif" font-size="16.957" fill="#000" stroke="#fff" stroke-width="0.49" transform="translate(71.90,644.82) rotate(-90) scale(0.9160,1)">o</text>
<text font-family="Liberation Sans, sans-serif" font-size="16.957" fill="#000" stroke="#fff" stroke-width="0.49" transform="translate(71.90,635.45) rotate(-90) scale(0.8846,1)">u</text>
<text font-family="Liberation Sans, sans-serif" font-size="16.957" fill="#000" stroke="#fff" stroke-width="0.49" transform="translate(71.90,626.22) rotate(-90) scale(0.9174,1)">d</text>
<text font-family="Liberation Sans, sans-serif" font-size="16.957" fill="#000" stroke="#fff" stroke-width="0.49" transform="translate(71.90,608.56) rotate(-90) scale(0.9611,1)">f</text>
<text font-family="Liberation Sans, sans-serif" font-size="16.957" fill="#000" stroke="#fff" stroke-width="0.49" transform="translate(71.90,602.65) rotate(-90) scale(0.8156,1)">o</text>
<text font-family="Liberation Sans, sans-serif" font-size="16.957" fill="#000" stroke="#fff" stroke-width="0.49" transform="translate(71.90,593.81) rotate(-90) scale(0.6841,1)">r</text>
<text font-family="Liberation Sans, sans-serif" font-size="16.957" fill="#000" stroke="#fff" stroke-width="0.49" transform="translate(71.90,587.45) rotate(-90) scale(0.9600,1)">c</text>
<text font-family="Liberation Sans, sans-serif" font-size="16.957" fill="#000" stroke="#fff" stroke-width="0.49" transform="translate(71.90,578.07) rotate(-90) scale(1.0000,1)">i</text>
<text font-family="Liberation Sans, sans-serif" font-size="16.957" fill="#000" stroke="#fff" stroke-width="0.49" transform="translate(71.90,573.93) rotate(-90) scale(0.8706,1)">n</text>
<text font-family="Liberation Sans, sans-serif" font-size="16.957" fill="#000" stroke="#fff" stroke-width="0.49" transform="translate(71.90,565.18) rotate(-90) scale(1.0091,1)">g</text>
<text font-family="Liberation Sans, sans-serif" font-size="16.957" fill="#000" stroke="#fff" stroke-width="0.49" transform="translate(71.90,546.27) rotate(-90) scale(0.9527,1)">(</text>
<text font-family="Liberation Sans, sans-serif" font-size="16.957" fill="#000" stroke="#fff" stroke-width="0.49" transform="translate(71.90,540.01) rotate(-90) scale(0.6595,1)">W</text>
<text font-family="Liberation Sans, sans-serif" font-size="16.957" fill="#000" stroke="#fff" stroke-width="0.49" transform="translate(71.90,516.69) rotate(-90) scale(1.0026,1)">m</text>
<text font-family="Liberation Sans, sans-serif" font-size="16.957" fill="#000" stroke="#fff" stroke-width="0.49" transform="translate(71.90,495.18) rotate(-90) scale(1.0661,1)">)</text>
<line x1="58.60" y1="517.90" x2="74.70" y2="527.10" stroke="#333" stroke-width="0.9"/>
<text font-family="Liberation Sans, sans-serif" font-size="11.714" fill="#000" stroke="#fff" stroke-width="0.30" transform="translate(65.40,502.47) rotate(-90) scale(0.9650,1)">2</text>
<polyline points="133.30,115.60 140.30,115.60 143.10,116.40 148.10,120.50 151.30,124.20 154.20,129.10 157.50,136.90 161.80,151.10 164.00,160.00 166.70,170.00 169.50,181.80 173.80,197.10 177.70,212.40 182.30,226.50 186.40,235.20 189.70,239.70 191.80,242.30 196.50,244.20 201.70,237.10 206.40,228.90 210.90,225.60 216.20,222.00 220.50,216.50 225.60,209.00 230.20,199.80 235.30,192.20 240.20,182.90 245.30,177.50 249.50,177.70 254.90,182.40 260.40,192.70 264.70,206.90 267.60,220.00 270.90,234.20 274.20,251.70 279.60,260.40 283.50,253.30 288.90,250.60 294.40,251.10 298.70,244.60 300.00,242.00 303.80,231.70 308.30,224.20 314.20,214.70 318.60,207.10 323.50,198.90 328.40,192.90 332.70,192.90 338.20,197.80 343.10,208.20 346.90,220.20 350.50,235.00 354.20,253.10 357.50,267.30 361.30,282.60 365.10,294.60 369.50,302.20 373.30,307.10 377.10,309.00 382.00,306.60 385.80,296.80 391.30,278.20 394.60,259.60 397.10,240.00 400.20,203.70 402.90,181.80 405.30,160.00 406.20,150.10 408.60,135.50 411.10,123.30 415.30,111.80 420.80,107.50 425.70,103.80 431.10,102.60 440.30,100.80" fill="none" stroke="#000" stroke-width="1.7" stroke-linejoin="round"/>
<polyline points="135.10,107.90 138.55,108.00 143.41,133.72 148.27,144.92 153.14,165.53 158.00,190.23 162.87,196.54 167.74,182.67 172.60,192.89 177.47,204.50 182.34,235.00 187.21,241.69 192.07,247.70 196.94,254.15 201.81,258.91 206.68,262.06 211.55,263.05 216.41,259.59 221.28,250.31 226.15,239.44 231.02,227.98 235.89,221.40 240.75,212.71 245.62,202.99 250.49,201.41 255.36,199.88 260.23,199.32 265.09,218.03 269.96,247.05 274.83,272.61 279.70,270.00 284.57,251.47 289.43,246.79 294.30,249.61 299.17,247.48 304.04,238.67 308.91,227.09 313.77,218.31 318.64,215.35 323.51,214.20 328.38,217.81 333.25,223.22 338.11,230.39 342.98,239.72 347.85,255.68 352.72,271.26 357.59,283.89 362.45,293.41 367.32,300.34 372.19,302.67 377.06,303.27 381.93,303.25 386.79,304.97 391.66,309.18 396.53,304.00 401.40,297.50 406.26,209.50 411.13,160.00 416.00,130.50 420.86,107.92 425.73,88.59 430.59,72.78 435.45,72.93 440.27,78.20" fill="none" stroke="#ff1010" stroke-width="1.8" stroke-dasharray="7 2.6" stroke-linejoin="round"/>
<polyline points="133.30,674.80 138.55,675.30 143.41,625.80 148.27,612.20 153.14,584.80 158.00,557.40 162.87,574.10 167.74,644.80 172.60,658.00 177.47,674.20 182.34,643.10 187.21,649.60 192.07,650.50 196.94,640.00 201.81,617.00 206.68,593.70 211.55,583.60 216.41,583.60 221.28,590.30 226.15,596.20 231.02,601.40 235.89,599.60 240.75,599.60 245.62,609.20 250.49,613.70 255.36,626.10 260.23,647.50 265.09,644.20 269.96,625.60 274.83,620.10 279.70,640.40 284.57,662.80 289.43,668.00 294.30,662.80 299.17,652.40 304.04,643.50 308.91,651.00 313.77,654.50 318.64,643.30 323.51,629.90 328.38,610.20 333.25,600.30 338.11,594.50 342.98,597.40 347.85,601.20 352.72,604.90 357.59,625.00 362.45,645.20 367.32,656.90 372.19,666.40 377.06,671.50 381.93,667.10 386.79,641.20 391.66,593.00 396.53,549.00 401.40,452.30 406.26,537.00 411.13,589.00 416.00,623.60 420.86,658.40 425.73,689.70 430.59,720.30 435.45,718.40 440.60,705.20" fill="none" stroke="#000" stroke-width="1.6" stroke-linejoin="miter" stroke-miterlimit="3"/>
</svg>
</body></html>
